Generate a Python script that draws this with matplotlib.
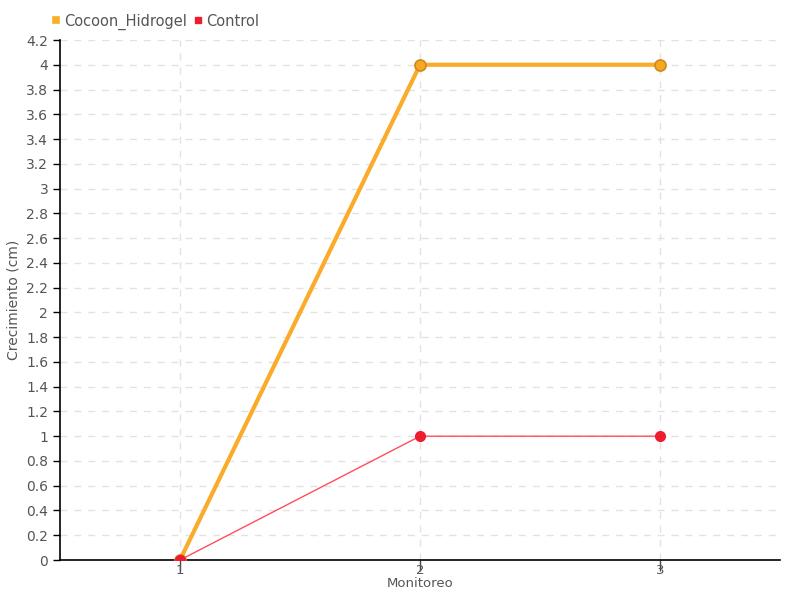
import matplotlib
matplotlib.use("Agg")
import matplotlib.pyplot as plt
import numpy as np

# data
monitoreo = [1, 2, 3]
cocoon_hidrogel = [0, 4, 4]
control = [0, 1, 1]
y_ticks = [0, 0.2, 0.4, 0.6, 0.8, 1, 1.2, 1.4, 1.6, 1.8, 2, 2.2, 2.4, 2.6, 2.8,
           3, 3.2, 3.4, 3.6, 3.8, 4, 4.2]

plt.rcParams['font.family'] = ['DejaVu Sans']
fig = plt.figure(figsize=(8, 6), dpi=100)
ax = fig.add_axes([60 / 800, 40 / 600, 720 / 800, 520 / 600])

ax.plot(monitoreo, cocoon_hidrogel, color="#fbab2a", lw=3, marker="o", ms=8,
        mfc="#f7a823", mec="#d0891a", mew=1.2, label="Cocoon_Hidrogel", zorder=3)
ax.plot(monitoreo, control, color="#ff4d5e", lw=1, marker="o", ms=7,
        mfc="#ee1c2e", mec="#ee1c2e", label="Control", zorder=4)

ax.set_xlim(0.5, 3.5)
ax.set_ylim(0, 4.2)
ax.set_xticks(monitoreo)
ax.set_yticks(y_ticks)
ax.set_yticklabels([f"{v:g}" for v in y_ticks])
ax.tick_params(axis="both", labelsize=10, colors="#555555", length=5, width=1)
ax.tick_params(axis="x", color="#444444", length=8, pad=-5, labelsize=9.5)
ax.tick_params(axis="y", color="black")

ax.grid(True, ls=(0, (5, 5)), color="#e2e2e2", lw=1)
ax.set_axisbelow(True)
for s in ["top", "right"]:
    ax.spines[s].set_visible(False)
ax.spines["left"].set_linewidth(1.2)
ax.spines["bottom"].set_linewidth(1.2)

ax.set_xlabel("Monitoreo", fontsize=9.5, color="#555555")
ax.xaxis.set_label_coords(420 / 800, 1 - 577 / 600, transform=fig.transFigure)
ax.xaxis.label.set_verticalalignment("top")
ax.set_ylabel("Crecimiento (cm)", fontsize=10, color="#555555", labelpad=4)

leg = ax.legend(loc="lower left", bbox_to_anchor=(-0.025, 1.0), ncol=2, frameon=False,
                fontsize=10.5, handlelength=0.5, handletextpad=0.3, columnspacing=0.5,
                borderaxespad=0.3)
for h, c in zip(leg.legend_handles, ["#f7b02a", "#ee1c2e"]):
    h.set_linestyle("none")
    h.set_marker("s")
    h.set_markersize(5)
    h.set_markerfacecolor(c)
    h.set_markeredgecolor(c)
for t in leg.get_texts():
    t.set_color("#555555")

fig.savefig("out.png", dpi=100)
